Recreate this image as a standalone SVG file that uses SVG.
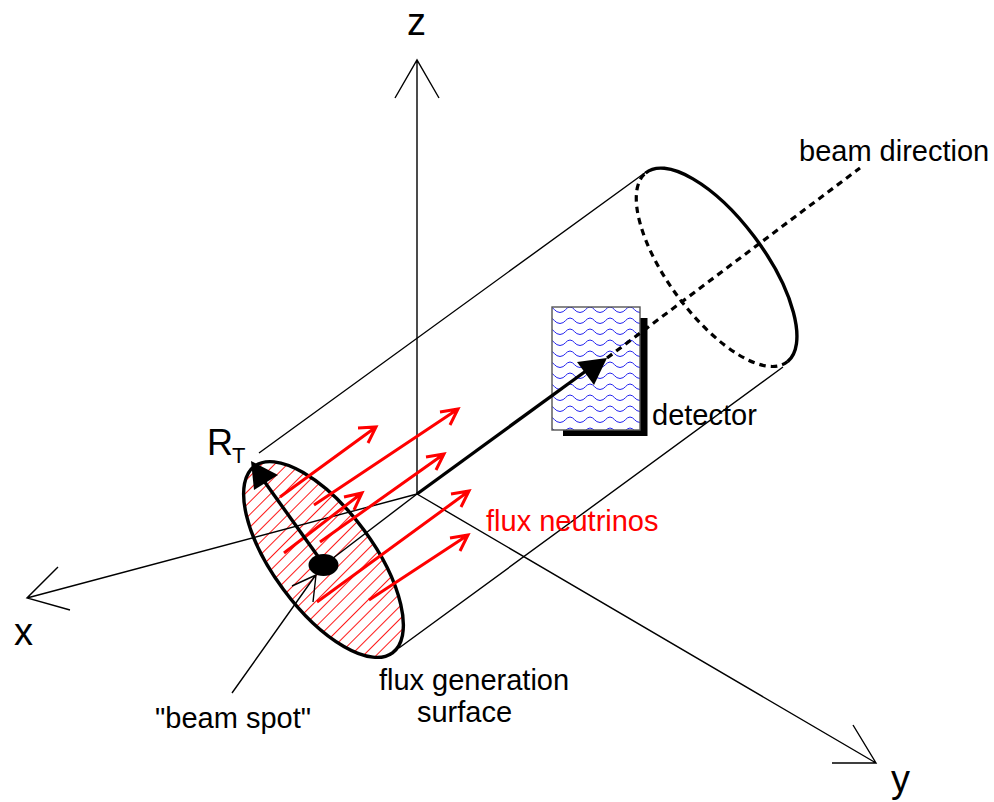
<svg xmlns="http://www.w3.org/2000/svg" width="994" height="802" viewBox="0 0 994 802">
<style>
text{font-family:"Liberation Sans",Arial,sans-serif;fill:#000}
.lbl{font-size:29px}
.ax{font-size:38px}
.thin{fill:none;stroke:#000;stroke-width:1.4}
.red{fill:none;stroke:#f00;stroke-width:3}
.thick{fill:none;stroke:#000;stroke-width:3.4}
.dash{fill:none;stroke:#000;stroke-width:3.2;stroke-dasharray:6.5 5}
</style>
<defs>
<pattern id="hatch" width="9" height="9" patternUnits="userSpaceOnUse" patternTransform="rotate(-45)"><line x1="0" y1="0.5" x2="9" y2="0.5" stroke="#f00" stroke-width="0.9"/></pattern>
<pattern id="waves" x="550" y="304" width="20" height="11" patternUnits="userSpaceOnUse"><path d="M0,3 C4,3 5,8.500 10,8.500 C15,8.500 16,3 20,3" fill="none" stroke="#2222ee" stroke-width="1"/></pattern>
</defs>
<rect width="994" height="802" fill="#fff"/>
<g id="surface-fill">
<path d="M254.5,466.2A116 50 53.500 1 1 392.500,652.800A116 50 53.500 1 1 254.500,466.200Z" fill="url(#hatch)"/>
</g>
<g id="connectors">
<path class="thin" d="M417,494V60M395,98L417,60L439,98"/>
<path class="thin" d="M417,494L27,598M70,610L27,598L58,567"/>
<path class="thin" d="M417,494L876,763M853,725L876,763L832,763"/>
<path class="thin" d="M259,453L646,172M399,648L783,367"/>
<path class="thin" d="M324,565L417,494"/>
</g>
<g id="surface">
<path d="M254.5,466.2A116 50 53.500 1 1 392.500,652.800A116 50 53.500 1 1 254.500,466.200Z" fill="none" stroke="#000" stroke-width="3.4"/>
</g>
<g id="detector">
<path d="M640,318H647.500V436H563V430H640Z" fill="#000"/>
<rect x="552" y="307" width="88" height="123" fill="#fff"/>
<rect x="552" y="307" width="88" height="123" fill="url(#waves)" stroke="#555" stroke-width="1.400"/>
</g>
<g id="end-cap">
<path class="thick" d="M645.600,173A118 48.500 53.500 0 1 787.600,361.600"/>
<path class="dash" d="M787.600,361.600A118 48.500 53.500 1 1 645.600,173"/>
</g>
<g id="beam-axis">
<path class="thick" d="M417,494L590,368"/>
<path class="dash" d="M607,358L860,168"/>
<path d="M607,358L577,362L594,385Z" fill="#000"/>
</g>
<g id="flux-arrows">
<path class="red" d="M280,497L376,427M358,428L376,427L368,443"/>
<path class="red" d="M314,505L458,409M440,412L458,409L450,425"/>
<path class="red" d="M284,553L362,493M344,497L362,493L354,510"/>
<path class="red" d="M320,542L444,454M426,457L444,454L436,470"/>
<path class="red" d="M317,602L469,491M451,494L469,491L461,507"/>
<path class="red" d="M369,600L468,535M450,538L468,535L460,551"/>
</g>
<g id="radius">
<path class="thick" d="M322,562L264,481"/>
<path d="M251,461L278,475L254,490Z" fill="#000"/>
<ellipse cx="323.500" cy="565" rx="15" ry="11" fill="#000"/>
</g>
<g id="beam-spot-pointer">
<path class="thin" d="M232,693L315,576M292,586L316,575L313,602"/>
</g>
<g id="labels">
<text class="ax" x="407" y="35">z</text>
<text class="ax" x="14" y="645">x</text>
<text class="ax" x="891" y="792">y</text>
<text class="lbl" x="799" y="161">beam direction</text>
<text class="lbl" x="652" y="425">detector</text>
<text class="lbl" x="486" y="531" style="fill:#f00">flux neutrinos</text>
<text class="lbl" x="207" y="455" style="font-size:36px">R</text>
<text x="232" y="463" style="font-size:22px">T</text>
<text class="lbl" x="474" y="690" text-anchor="middle">flux generation</text>
<text class="lbl" x="464.500" y="722" text-anchor="middle">surface</text>
<text class="lbl" x="233" y="728" text-anchor="middle">"beam spot"</text>
</g>
</svg>
